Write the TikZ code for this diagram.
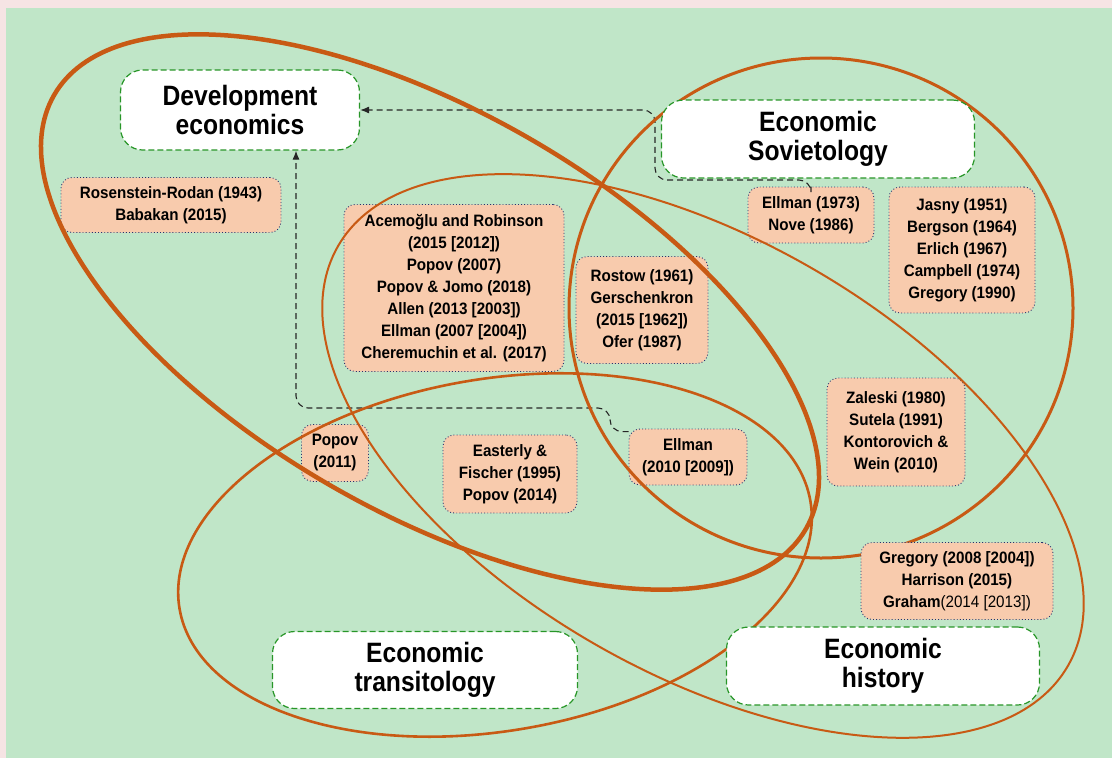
\documentclass[tikz,border=0pt]{standalone}
\usepackage{fontspec}
\newfontfamily\topicfont{Liberation Sans}[FakeStretch=0.88]
\newfontfamily\reffont{Liberation Sans}[FakeStretch=0.92]
\usetikzlibrary{arrows.meta}

\definecolor{bggreen}{RGB}{192,230,200}
\definecolor{bandpink}{RGB}{246,228,228}
\definecolor{peach}{RGB}{248,203,173}
\definecolor{ringorange}{RGB}{200,90,20}
\definecolor{boxgreen}{RGB}{40,150,40}
\definecolor{dotnavy}{RGB}{40,50,110}

\pgfdeclarelayer{back}
\pgfdeclarelayer{rings}
\pgfdeclarelayer{front}
\pgfsetlayers{back,main,rings,front}

\tikzset{
  topic/.style={draw=boxgreen, fill=white, line width=1.2pt, dash pattern=on 6pt off 3pt,
    rounded corners=22pt, align=center, inner sep=0pt,
    font=\topicfont\bfseries\fontsize{28}{29}\selectfont},
  ref/.style={draw=dotnavy, fill=peach, line width=0.9pt, dash pattern=on 0.9pt off 2.2pt,
    rounded corners=11pt, align=center, inner sep=0pt,
    font=\reffont\bfseries\fontsize{16.5}{22}\selectfont},
  ring/.style={draw=ringorange},
  link/.style={draw=black!85, line width=1.1pt, dash pattern=on 6pt off 4pt,
    rounded corners=12pt, -{Latex[length=9pt,width=7pt]}}
}

\begin{document}
\begin{tikzpicture}[x=1pt,y=1pt]
  \useasboundingbox (0,0) rectangle (1112,-758);

  % background
  \begin{pgfonlayer}{back}
    \fill[bandpink] (0,0) rectangle (1112,-758);
    \fill[bggreen] (6,-8) rectangle (1112,-758);
  \end{pgfonlayer}

  % the four fields
  \begin{pgfonlayer}{front}
    \node[topic, minimum width=239pt, minimum height=80pt] (devel) at (240,-110) {Development\\economics};
    \node[topic, minimum width=313pt, minimum height=78pt] (soviet) at (818,-139) {Economic\\Sovietology};
    \node[topic, minimum width=305pt, minimum height=77pt] (transit) at (425,-670) {Economic\\transitology};
    \node[topic, minimum width=313pt, minimum height=78pt] (history) at (883,-666) {Economic\\history};
    \node[ref, minimum width=192pt, minimum height=77pt] (gregory) at (957,-581)
      {Gregory (2008 [2004])\\Harrison (2015)\\Graham{\mdseries(2014 [2013])}};
  \end{pgfonlayer}

  % references
  \node[ref, minimum width=220pt, minimum height=55pt] (rosen) at (171,-205)
    {Rosenstein-Rodan (1943)\\Babakan (2015)};
  \node[ref, minimum width=220pt, minimum height=167pt] (acemoglu) at (454,-288)
    {Acemoğlu and Robinson\\(2015 [2012])\\Popov (2007)\\Popov \& Jomo (2018)\\Allen (2013 [2003])\\Ellman (2007 [2004])\\Cheremuchin et al. (2017)};
  \node[ref, minimum width=132pt, minimum height=107pt] (rostow) at (642,-310)
    {Rostow (1961)\\Gerschenkron\\(2015 [1962])\\Ofer (1987)};
  \node[ref, minimum width=126pt, minimum height=56pt] (ellmana) at (811,-215)
    {Ellman (1973)\\Nove (1986)};
  \node[ref, minimum width=146pt, minimum height=126pt] (jasny) at (962,-250)
    {Jasny (1951)\\Bergson (1964)\\Erlich (1967)\\Campbell (1974)\\Gregory (1990)};
  \node[ref, minimum width=67pt, minimum height=57pt] (popova) at (335,-453)
    {Popov\\(2011)};
  \node[ref, minimum width=134pt, minimum height=78pt] (easterly) at (510,-474)
    {Easterly \&\\Fischer (1995)\\Popov (2014)};
  \node[ref, minimum width=118pt, minimum height=56pt] (ellmanb) at (688,-457)
    {Ellman\\(2010 [2009])};
  \node[ref, minimum width=138pt, minimum height=108pt] (zaleski) at (896,-432)
    {Zaleski (1980)\\Sutela (1991)\\Kontorovich \&\\Wein (2010)};

  % dashed links
  \coordinate (bendA) at (655,-180);
  \coordinate (bendB) at (610,-408);
  \draw[link] (ellmana.north) |- (bendA) |- (devel.east);
  \draw[link] ([yshift=-3pt]ellmanb.north west) -| (bendB) -| ([xshift=56pt]devel.south);

  % rings
  \begin{pgfonlayer}{rings}
    \coordinate (devc) at (430,-312);
    \coordinate (sovc) at (821,-308);
    \coordinate (hisc) at (703,-456);
    \coordinate (trac) at (495,-555);
    \draw[ring, line width=2pt, rotate around={-29.9:(hisc)}] (hisc) ellipse [x radius=421pt, y radius=217pt];
    \draw[ring, line width=2.6pt, rotate around={9.7:(trac)}] (trac) ellipse [x radius=320pt, y radius=176pt];
    \draw[ring, line width=3pt] (sovc) ellipse [x radius=252pt, y radius=250pt];
    \draw[ring, line width=4.5pt, rotate around={-30:(devc)}] (devc) ellipse [x radius=434pt, y radius=200pt];
  \end{pgfonlayer}
\end{tikzpicture}
\end{document}
